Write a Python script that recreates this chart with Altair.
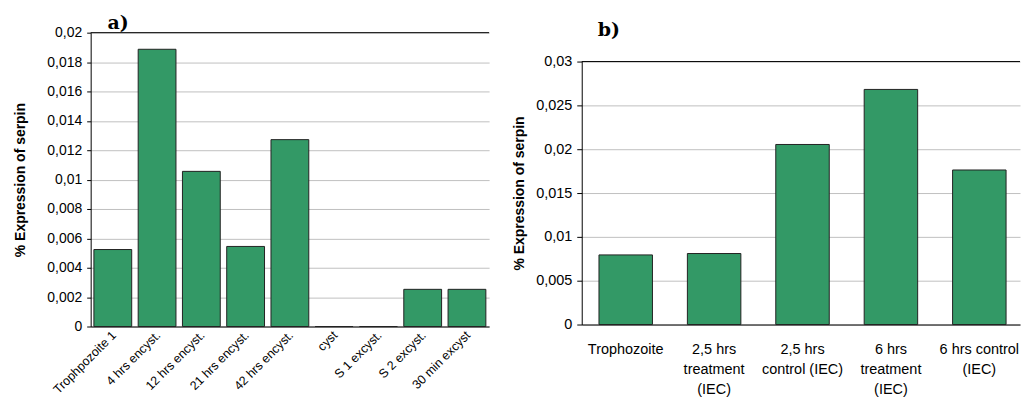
import altair as alt
import pandas as pd

# ---- data ----
cats_a = ["Trophpozoite 1", "4 hrs encyst.", "12 hrs encyst.", "21 hrs encyst.",
          "42 hrs encyst.", "cyst", "S 1 excyst.", "S 2 excyst.", "30 min excyst"]
vals_a = [0.00524, 0.01887, 0.01056, 0.00545, 0.01272, 0.0, 0.0, 0.00253, 0.00253]
ticks_a = [0, 0.002, 0.004, 0.006, 0.008, 0.01, 0.012, 0.014, 0.016, 0.018, 0.02]

cats_b = ["Trophozoite", "2,5 hrs|treatment|(IEC)", "2,5 hrs|control (IEC)",
          "6 hrs|treatment|(IEC)", "6 hrs control|(IEC)"]
vals_b = [0.00794, 0.0081, 0.02054, 0.02682, 0.01763]
ticks_b = [0, 0.005, 0.01, 0.015, 0.02, 0.025, 0.03]

FONT = "Liberation Sans"
GREEN = "#339966"
EDGE = "#222222"
GRID = "#c0c0c0"
LAB = "replace(format(datum.value, '~g'), '.', ',')"

df_a = pd.DataFrame({"cat": cats_a, "val": vals_a})
df_b = pd.DataFrame({"cat": cats_b, "val": vals_b})


def yaxis(values, tick, lpad, tpad, fs):
    return alt.Axis(values=values, tickCount=len(values), labelExpr=LAB,
                    title="% Expression of serpin",
                    titleFont=FONT, titleFontSize=14, titleFontWeight="bold",
                    titleColor="black", labelFont=FONT, labelFontSize=fs,
                    labelColor="black", tickSize=tick, tickColor="black",
                    domainColor="black", gridColor=GRID, grid=True,
                    labelOverlap=False, labelPadding=lpad, titlePadding=tpad)


def title(txt, dx, offset):
    return alt.TitleParams(txt, anchor="start", frame="group", dx=dx, offset=offset,
                           font="DejaVu Serif", fontSize=19, fontWeight="bold",
                           color="black")


# ---- panel a ----
bars_a = alt.Chart(df_a).mark_bar(fill=GREEN, stroke=EDGE, strokeWidth=1).encode(
    x=alt.X("cat:N", sort=None,
            scale=alt.Scale(paddingInner=0.146, paddingOuter=0.073),
            axis=alt.Axis(title=None, labelAngle=-45, labelAlign="right",
                          labelBaseline="top", labelPadding=2, labelOffset=-3,
                          ticks=False, labelOverlap=False,
                          labelFont=FONT, labelFontSize=12.5, labelColor="black",
                          domainColor="black", grid=False)),
    y=alt.Y("val:Q", scale=alt.Scale(domain=[0, 0.02], nice=False),
            axis=yaxis(ticks_a, 4, 5, 19, 14)),
)
top_a = alt.Chart(pd.DataFrame({"y": [0.02]})).mark_rule(color="black").encode(
    y=alt.Y("y:Q"))
chart_a = alt.layer(bars_a, top_a).properties(width=400, height=295,
                                               title=title("a)", 17, -7))

# ---- panel b ----
bars_b = alt.Chart(df_b).mark_bar(fill=GREEN, stroke=EDGE, strokeWidth=1).encode(
    x=alt.X("cat:N", sort=None,
            scale=alt.Scale(paddingInner=0.395, paddingOuter=0.1763, align=0.553),
            axis=alt.Axis(title=None, labelAngle=0, labelExpr="split(datum.label, '|')",
                          labelLineHeight=20, labelPadding=18, ticks=False,
                          labelOverlap=False,
                          labelFont=FONT, labelFontSize=14.5, labelColor="black",
                          domainColor="black", grid=False)),
    y=alt.Y("val:Q", scale=alt.Scale(domain=[0, 0.03], nice=False, range=[293, 29]),
            axis=yaxis(ticks_b, 5, 5, 9, 14.5)),
)
top_b = alt.Chart(pd.DataFrame({"y": [0.03]})).mark_rule(color="black").encode(
    y=alt.Y("y:Q"))
chart_b = alt.layer(bars_b, top_b).properties(width=440, height=293,
                                               title=title("b)", 16, -7))

chart = alt.hconcat(chart_a, chart_b, spacing=22).resolve_scale(
    y="independent", x="independent"
).properties(padding={"left": 5, "top": 5, "right": 0, "bottom": 0}
).configure_view(stroke=None)

chart.save("out.html", embed_options={"renderer": "svg", "actions": False})
